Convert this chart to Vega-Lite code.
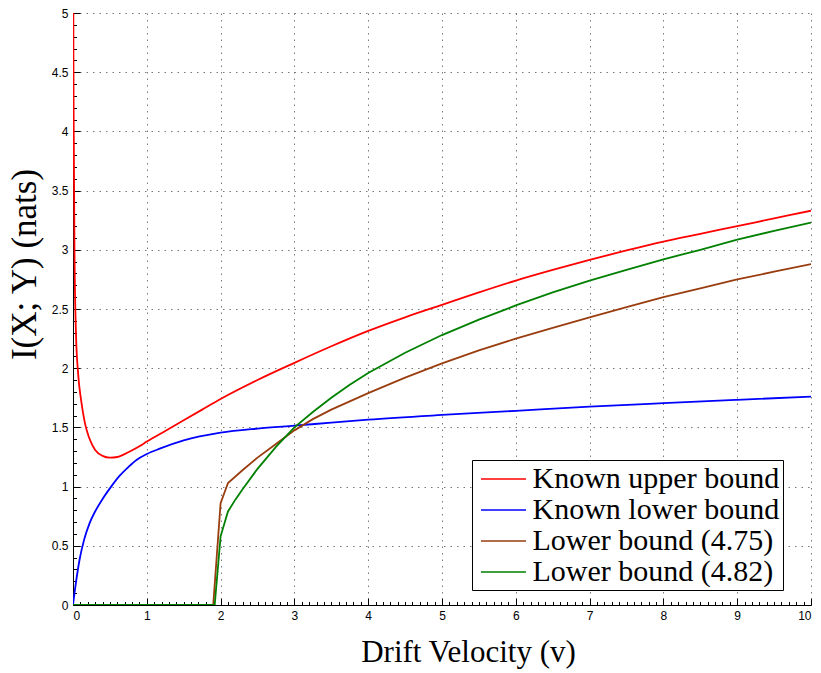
{
  "$schema": "https://vega.github.io/schema/vega-lite/v6.json",
  "width": 738,
  "height": 592,
  "autosize": {"type": "none"},
  "padding": {"left": 73, "top": 13, "right": 10, "bottom": 68},
  "background": "white",
  "config": {
    "view": {"stroke": null},
    "axis": {
      "domainColor": "#000000",
      "domainWidth": 1,
      "tickColor": "#000000",
      "labelColor": "#000000",
      "titleColor": "#000000",
      "labelFont": "Liberation Sans",
      "labelFontSize": 12,
      "titleFont": "Liberation Serif",
      "titleFontSize": 30,
      "titleFontWeight": "normal"
    },
    "legend": {
      "labelFont": "Liberation Serif",
      "labelFontSize": 30,
      "labelColor": "#000000"
    }
  },
  "datasets": {
    "smooth": [
      {"v": 0.003, "I": 5.6, "series": "Known upper bound"},
      {"v": 0.006, "I": 4.6, "series": "Known upper bound"},
      {"v": 0.01, "I": 4.0, "series": "Known upper bound"},
      {"v": 0.02, "I": 3.0, "series": "Known upper bound"},
      {"v": 0.04, "I": 2.3, "series": "Known upper bound"},
      {"v": 0.07, "I": 1.95, "series": "Known upper bound"},
      {"v": 0.11, "I": 1.73, "series": "Known upper bound"},
      {"v": 0.16, "I": 1.54, "series": "Known upper bound"},
      {"v": 0.22, "I": 1.41, "series": "Known upper bound"},
      {"v": 0.3, "I": 1.31, "series": "Known upper bound"},
      {"v": 0.4, "I": 1.26, "series": "Known upper bound"},
      {"v": 0.5, "I": 1.245, "series": "Known upper bound"},
      {"v": 0.6, "I": 1.25, "series": "Known upper bound"},
      {"v": 0.75, "I": 1.29, "series": "Known upper bound"},
      {"v": 0.9, "I": 1.34, "series": "Known upper bound"},
      {"v": 1.0, "I": 1.38, "series": "Known upper bound"},
      {"v": 1.25, "I": 1.47, "series": "Known upper bound"},
      {"v": 1.5, "I": 1.56, "series": "Known upper bound"},
      {"v": 1.75, "I": 1.65, "series": "Known upper bound"},
      {"v": 2.0, "I": 1.74, "series": "Known upper bound"},
      {"v": 2.5, "I": 1.9, "series": "Known upper bound"},
      {"v": 3.0, "I": 2.045, "series": "Known upper bound"},
      {"v": 3.5, "I": 2.185, "series": "Known upper bound"},
      {"v": 4.0, "I": 2.315, "series": "Known upper bound"},
      {"v": 4.5, "I": 2.43, "series": "Known upper bound"},
      {"v": 5.0, "I": 2.535, "series": "Known upper bound"},
      {"v": 5.5, "I": 2.64, "series": "Known upper bound"},
      {"v": 6.0, "I": 2.74, "series": "Known upper bound"},
      {"v": 6.5, "I": 2.83, "series": "Known upper bound"},
      {"v": 7.0, "I": 2.915, "series": "Known upper bound"},
      {"v": 7.5, "I": 2.995, "series": "Known upper bound"},
      {"v": 8.0, "I": 3.07, "series": "Known upper bound"},
      {"v": 8.5, "I": 3.135, "series": "Known upper bound"},
      {"v": 9.0, "I": 3.2, "series": "Known upper bound"},
      {"v": 9.5, "I": 3.265, "series": "Known upper bound"},
      {"v": 10.0, "I": 3.33, "series": "Known upper bound"},
      {"v": 0.0, "I": 0.0, "series": "Known lower bound"},
      {"v": 0.02, "I": 0.1, "series": "Known lower bound"},
      {"v": 0.04, "I": 0.19, "series": "Known lower bound"},
      {"v": 0.088, "I": 0.38, "series": "Known lower bound"},
      {"v": 0.15, "I": 0.55, "series": "Known lower bound"},
      {"v": 0.224, "I": 0.69, "series": "Known lower bound"},
      {"v": 0.3, "I": 0.79, "series": "Known lower bound"},
      {"v": 0.405, "I": 0.9, "series": "Known lower bound"},
      {"v": 0.5, "I": 0.985, "series": "Known lower bound"},
      {"v": 0.63, "I": 1.09, "series": "Known lower bound"},
      {"v": 0.75, "I": 1.165, "series": "Known lower bound"},
      {"v": 0.86, "I": 1.225, "series": "Known lower bound"},
      {"v": 1.0, "I": 1.275, "series": "Known lower bound"},
      {"v": 1.175, "I": 1.32, "series": "Known lower bound"},
      {"v": 1.5, "I": 1.39, "series": "Known lower bound"},
      {"v": 2.0, "I": 1.455, "series": "Known lower bound"},
      {"v": 2.5, "I": 1.49, "series": "Known lower bound"},
      {"v": 3.0, "I": 1.515, "series": "Known lower bound"},
      {"v": 3.5, "I": 1.54, "series": "Known lower bound"},
      {"v": 4.0, "I": 1.565, "series": "Known lower bound"},
      {"v": 5.0, "I": 1.605, "series": "Known lower bound"},
      {"v": 6.0, "I": 1.64, "series": "Known lower bound"},
      {"v": 7.0, "I": 1.675, "series": "Known lower bound"},
      {"v": 8.0, "I": 1.705, "series": "Known lower bound"},
      {"v": 9.0, "I": 1.733, "series": "Known lower bound"},
      {"v": 10.0, "I": 1.76, "series": "Known lower bound"}
    ],
    "bounds": [
      {"v": 0.0, "I": 0.0, "series": "Lower bound (4.75)"},
      {"v": 1.9, "I": 0.0, "series": "Lower bound (4.75)"},
      {"v": 2.0, "I": 0.86, "series": "Lower bound (4.75)"},
      {"v": 2.1, "I": 1.03, "series": "Lower bound (4.75)"},
      {"v": 2.3, "I": 1.14, "series": "Lower bound (4.75)"},
      {"v": 2.5, "I": 1.245, "series": "Lower bound (4.75)"},
      {"v": 2.75, "I": 1.36, "series": "Lower bound (4.75)"},
      {"v": 3.0, "I": 1.475, "series": "Lower bound (4.75)"},
      {"v": 3.25, "I": 1.57, "series": "Lower bound (4.75)"},
      {"v": 3.5, "I": 1.65, "series": "Lower bound (4.75)"},
      {"v": 4.0, "I": 1.79, "series": "Lower bound (4.75)"},
      {"v": 4.5, "I": 1.92, "series": "Lower bound (4.75)"},
      {"v": 5.0, "I": 2.04, "series": "Lower bound (4.75)"},
      {"v": 5.5, "I": 2.15, "series": "Lower bound (4.75)"},
      {"v": 6.0, "I": 2.25, "series": "Lower bound (4.75)"},
      {"v": 6.5, "I": 2.34, "series": "Lower bound (4.75)"},
      {"v": 7.0, "I": 2.43, "series": "Lower bound (4.75)"},
      {"v": 7.5, "I": 2.515, "series": "Lower bound (4.75)"},
      {"v": 8.0, "I": 2.6, "series": "Lower bound (4.75)"},
      {"v": 8.5, "I": 2.675, "series": "Lower bound (4.75)"},
      {"v": 9.0, "I": 2.75, "series": "Lower bound (4.75)"},
      {"v": 9.5, "I": 2.815, "series": "Lower bound (4.75)"},
      {"v": 10.0, "I": 2.88, "series": "Lower bound (4.75)"},
      {"v": 0.0, "I": 0.0, "series": "Lower bound (4.82)"},
      {"v": 1.92, "I": 0.0, "series": "Lower bound (4.82)"},
      {"v": 2.0, "I": 0.58, "series": "Lower bound (4.82)"},
      {"v": 2.1, "I": 0.79, "series": "Lower bound (4.82)"},
      {"v": 2.2, "I": 0.89, "series": "Lower bound (4.82)"},
      {"v": 2.3, "I": 0.98, "series": "Lower bound (4.82)"},
      {"v": 2.5, "I": 1.15, "series": "Lower bound (4.82)"},
      {"v": 2.75, "I": 1.335, "series": "Lower bound (4.82)"},
      {"v": 3.0, "I": 1.5, "series": "Lower bound (4.82)"},
      {"v": 3.25, "I": 1.63, "series": "Lower bound (4.82)"},
      {"v": 3.5, "I": 1.75, "series": "Lower bound (4.82)"},
      {"v": 3.75, "I": 1.86, "series": "Lower bound (4.82)"},
      {"v": 4.0, "I": 1.96, "series": "Lower bound (4.82)"},
      {"v": 4.5, "I": 2.13, "series": "Lower bound (4.82)"},
      {"v": 5.0, "I": 2.28, "series": "Lower bound (4.82)"},
      {"v": 5.5, "I": 2.41, "series": "Lower bound (4.82)"},
      {"v": 6.0, "I": 2.53, "series": "Lower bound (4.82)"},
      {"v": 6.5, "I": 2.64, "series": "Lower bound (4.82)"},
      {"v": 7.0, "I": 2.74, "series": "Lower bound (4.82)"},
      {"v": 7.5, "I": 2.83, "series": "Lower bound (4.82)"},
      {"v": 8.0, "I": 2.92, "series": "Lower bound (4.82)"},
      {"v": 8.5, "I": 3.0, "series": "Lower bound (4.82)"},
      {"v": 9.0, "I": 3.085, "series": "Lower bound (4.82)"},
      {"v": 9.5, "I": 3.16, "series": "Lower bound (4.82)"},
      {"v": 10.0, "I": 3.23, "series": "Lower bound (4.82)"}
    ]
  },
  "resolve": {"axis": {"x": "independent", "y": "independent"}},
  "layer": [
    {
      "data": {"name": "smooth"},
      "mark": {"type": "line", "interpolate": "monotone", "strokeWidth": 1.8, "clip": true},
      "encoding": {
        "x": {
          "field": "v", "type": "quantitative",
          "scale": {"domain": [0, 10], "nice": false},
          "axis": {
            "title": "Drift Velocity (v)",
            "values": [0, 1, 2, 3, 4, 5, 6, 7, 8, 9, 10],
            "format": "~f",
            "grid": true, "gridDash": [1.5, 5], "gridColor": "#7a7a7a", "gridWidth": 1,
            "tickSize": -7, "labelPadding": 12,
            "labelFont": "Liberation Sans", "labelFontSize": 12,
            "titleFont": "Liberation Serif", "titleFontSize": 31, "titleFontWeight": "normal",
            "titleX": 395, "titleY": 56, "titleBaseline": "alphabetic", "titleAnchor": "middle"
          }
        },
        "y": {
          "field": "I", "type": "quantitative",
          "scale": {"domain": [0, 5], "nice": false},
          "axis": {
            "title": "I(X; Y)   (nats)",
            "values": [0, 0.5, 1, 1.5, 2, 2.5, 3, 3.5, 4, 4.5, 5],
            "format": "~f",
            "grid": true, "gridDash": [1.5, 5], "gridColor": "#7a7a7a", "gridWidth": 1,
            "tickSize": -7, "labelPadding": 12,
            "labelFont": "Liberation Sans", "labelFontSize": 12,
            "titleFont": "Liberation Serif", "titleFontSize": 35, "titleFontWeight": "normal",
            "titleX": -31, "titleY": 251, "titleBaseline": "bottom", "titleAnchor": "middle"
          }
        },
        "color": {
          "field": "series", "type": "nominal",
          "scale": {
            "domain": ["Known upper bound", "Known lower bound", "Lower bound (4.75)", "Lower bound (4.82)"],
            "range": ["#ff0000", "#0000ff", "#993d0f", "#008000"]
          },
          "legend": {
            "title": null,
            "orient": "none",
            "legendX": 399,
            "legendY": 447,
            "padding": 3,
            "rowPadding": 0,
            "symbolType": "M-1.5,0H1.5",
            "symbolSize": 900,
            "symbolStrokeWidth": 1.5,
            "symbolOffset": 12.5,
            "labelOffset": 13,
            "labelFont": "Liberation Serif",
            "labelFontSize": 30,
            "labelColor": "#000000",
            "labelLimit": 400,
            "strokeColor": "#000000",
            "fillColor": "#ffffff",
            "cornerRadius": 0
          }
        }
      }
    },
    {
      "data": {"name": "bounds"},
      "mark": {"type": "line", "interpolate": "linear", "strokeWidth": 1.8, "clip": true},
      "encoding": {
        "x": {"field": "v", "type": "quantitative", "axis": null},
        "y": {"field": "I", "type": "quantitative", "axis": null},
        "color": {"field": "series", "type": "nominal", "legend": null}
      }
    },
    {
      "data": {"name": "bounds"},
      "mark": {"type": "line", "strokeOpacity": 0, "clip": true},
      "encoding": {
        "x": {
          "field": "v", "type": "quantitative",
          "axis": {
            "orient": "bottom", "title": null, "labels": false, "domain": false, "grid": false,
            "values": [0.1,0.2,0.3,0.4,0.5,0.6,0.7,0.8,0.9,1.1,1.2,1.3,1.4,1.5,1.6,1.7,1.8,1.9,2.1,2.2,2.3,2.4,2.5,2.6,2.7,2.8,2.9,3.1,3.2,3.3,3.4,3.5,3.6,3.7,3.8,3.9,4.1,4.2,4.3,4.4,4.5,4.6,4.7,4.8,4.9,5.1,5.2,5.3,5.4,5.5,5.6,5.7,5.8,5.9,6.1,6.2,6.3,6.4,6.5,6.6,6.7,6.8,6.9,7.1,7.2,7.3,7.4,7.5,7.6,7.7,7.8,7.9,8.1,8.2,8.3,8.4,8.5,8.6,8.7,8.8,8.9,9.1,9.2,9.3,9.4,9.5,9.6,9.7,9.8,9.9],
            "tickSize": -3.5, "tickColor": "#000000"
          }
        },
        "y": {
          "field": "I", "type": "quantitative",
          "axis": {
            "orient": "left", "title": null, "labels": false, "domain": false, "grid": false,
            "values": [0.1,0.2,0.3,0.4,0.6,0.7,0.8,0.9,1.1,1.2,1.3,1.4,1.6,1.7,1.8,1.9,2.1,2.2,2.3,2.4,2.6,2.7,2.8,2.9,3.1,3.2,3.3,3.4,3.6,3.7,3.8,3.9,4.1,4.2,4.3,4.4,4.6,4.7,4.8,4.9],
            "tickSize": -3.5, "tickColor": "#000000"
          }
        }
      }
    }
  ]
}
